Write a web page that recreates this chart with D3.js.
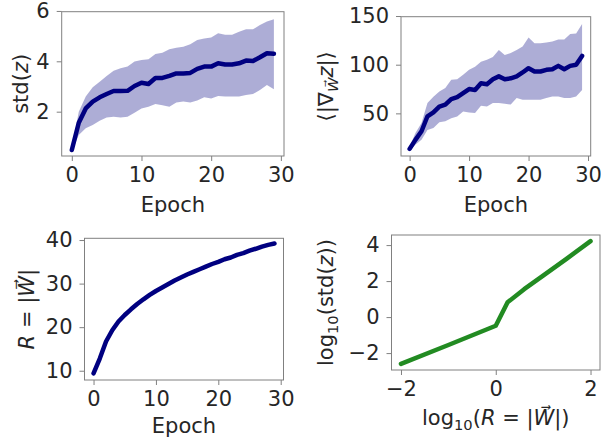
<!DOCTYPE html>
<html>
<head>
<meta charset="utf-8">
<script src="https://cdn.jsdelivr.net/npm/d3@7"></script>
<style>
  body { margin: 0; background: #fff; }
  svg text { font-family: "DejaVu Sans", sans-serif; fill: #262626; }
</style>
</head>
<body>
<div id="chart"></div>
<script>
/* four small training-curve panels */

// DATA
var epochs = [0, 1, 2, 3, 4, 5, 6, 7, 8, 9, 10, 11, 12, 13, 14, 15, 16, 17, 18, 19, 20, 21, 22, 23, 24, 25, 26, 27, 28, 29];

var stdMean  = [0.48, 1.56, 2.13, 2.40, 2.57, 2.70, 2.82, 2.82, 2.83, 3.02, 3.15, 3.10, 3.34, 3.34, 3.42, 3.52, 3.52, 3.54, 3.70, 3.79, 3.79, 3.92, 3.87, 3.87, 3.92, 4.03, 4.01, 4.16, 4.32, 4.30];
var stdUpper = [0.52, 2.00, 2.60, 2.97, 3.19, 3.42, 3.63, 3.72, 3.79, 3.99, 4.05, 4.08, 4.29, 4.34, 4.48, 4.54, 4.58, 4.68, 4.85, 4.91, 4.95, 5.11, 5.05, 5.05, 5.17, 5.27, 5.27, 5.44, 5.58, 5.67];
var stdLower = [0.42, 1.07, 1.34, 1.47, 1.64, 1.77, 1.80, 1.77, 1.80, 1.96, 2.13, 2.20, 2.30, 2.26, 2.20, 2.36, 2.40, 2.36, 2.44, 2.57, 2.52, 2.62, 2.60, 2.60, 2.60, 2.66, 2.70, 2.86, 3.06, 2.89];

var gradMean  = [13.5, 23, 31.6, 47, 51, 57, 59, 64.7, 66.7, 70.8, 75, 74, 81, 80, 85, 88, 85, 86, 88, 92, 96.4, 93, 93, 94.7, 95.4, 98.8, 95.4, 98.8, 100, 109];
var gradUpper = [16, 30, 40, 60.6, 67, 72.5, 76, 84.5, 85, 89.6, 94.7, 98, 103, 105, 108, 115, 110, 112, 115, 118.6, 128, 122, 122, 122.7, 123.7, 126, 126, 131.6, 132, 141.8];
var gradLower = [12, 18, 23, 33, 35, 40.8, 41.8, 45, 46.9, 52, 51, 50.3, 57.8, 57, 60.6, 60.6, 60, 59, 65.7, 64, 64, 64, 64, 65.7, 67.4, 67.4, 65.7, 65.7, 67.4, 74];

var radius = [9.4, 12.8, 16.7, 19.3, 21.3, 22.8, 24.1, 25.3, 26.4, 27.4, 28.3, 29.1, 29.9, 30.7, 31.4, 32.1, 32.7, 33.3, 33.9, 34.5, 35.0, 35.6, 36.0, 36.6, 37.0, 37.55, 38.0, 38.5, 38.9, 39.2];

var logR   = [-2, -1, 0, 0.25, 0.6, 1.0, 1.5, 2];
var logStd = [-2.60, -1.55, -0.48, 0.82, 1.55, 2.30, 3.25, 4.22];

var epochTicks = [0, 10, 20, 30];
var stdTicks = [2, 4, 6];
var gradTicks = [50, 100, 150];
var radiusTicks = [10, 20, 30, 40];
var logRTicks = [-2, 0, 2];
var logStdTicks = [-2, 0, 2, 4];

var width = 601, height = 439;
var fontSize = 21;
var intFormat = d3.format("d");

var svg = d3.select("#chart").append("svg")
    .attr("width", width)
    .attr("height", height);

// draw one framed panel, returns its scales
function makePanel(box, xDomain, yDomain, xTicks, yTicks) {
  var x = d3.scaleLinear().domain(xDomain).range([box.left, box.right]);
  var y = d3.scaleLinear().domain(yDomain).range([box.bottom, box.top]);

  var g = svg.append("g");

  var xAxis = g.append("g")
      .attr("transform", "translate(0," + box.bottom + ")")
      .call(d3.axisBottom(x).tickValues(xTicks).tickFormat(intFormat).tickSize(5).tickPadding(6));
  var yAxis = g.append("g")
      .attr("transform", "translate(" + box.left + ",0)")
      .call(d3.axisLeft(y).tickValues(yTicks).tickFormat(intFormat).tickSize(5).tickPadding(7));

  [xAxis, yAxis].forEach(function (a) {
    a.select(".domain").remove();
    a.selectAll("line").attr("stroke", "#808080");
    a.selectAll("text")
      .attr("font-size", fontSize)
      .attr("font-family", "DejaVu Sans")
      .attr("fill", "#262626");
  });

  // frame
  g.append("rect")
    .attr("x", box.left)
    .attr("y", box.top)
    .attr("width", box.right - box.left)
    .attr("height", box.bottom - box.top)
    .attr("fill", "none")
    .attr("stroke", "#808080")
    .attr("stroke-width", 1);

  return {x: x, y: y, g: g, box: box};
}

function band(p, lower, upper) {
  var area = d3.area()
      .x(function (d, i) { return p.x(epochs[i]); })
      .y0(function (d, i) { return p.y(lower[i]); })
      .y1(function (d, i) { return p.y(upper[i]); });
  p.g.insert("path", ":first-child")
    .datum(upper)
    .attr("d", area)
    .attr("fill", "#000080")
    .attr("fill-opacity", 0.32);
}

function curve(p, xs, ys, color) {
  var line = d3.line()
      .x(function (d, i) { return p.x(xs[i]); })
      .y(function (d, i) { return p.y(ys[i]); });
  p.g.append("path")
    .datum(ys)
    .attr("d", line)
    .attr("fill", "none")
    .attr("stroke", color)
    .attr("stroke-width", 4.5)
    .attr("stroke-linejoin", "round")
    .attr("stroke-linecap", "round");
}

function xLabel(p, baseline) {
  return svg.append("text")
    .attr("x", (p.box.left + p.box.right) / 2)
    .attr("y", baseline)
    .attr("text-anchor", "middle")
    .attr("font-size", fontSize);
}

function yLabel(p, baseX) {
  var cy = (p.box.top + p.box.bottom) / 2;
  return svg.append("text")
    .attr("transform", "translate(" + baseX + "," + cy + ") rotate(-90)")
    .attr("text-anchor", "middle")
    .attr("font-size", fontSize);
}

// panel 1: std(z)
var p1 = makePanel({left: 61.7, right: 284, top: 11.7, bottom: 156},
                   [-1.45, 30.45], [0.24, 5.97], epochTicks, stdTicks);
band(p1, stdLower, stdUpper);
curve(p1, epochs, stdMean, "#000080");
xLabel(p1, 212).text("Epoch");
var l1 = yLabel(p1, 28);
l1.append("tspan").text("std(");
l1.append("tspan").attr("font-style", "italic").text("z");
l1.append("tspan").text(")");

// panel 2: gradient magnitude
var p2 = makePanel({left: 401, right: 590.7, top: 16.7, bottom: 156},
                   [-1.45, 30.45], [6.2, 149.3], epochTicks, gradTicks);
band(p2, gradLower, gradUpper);
curve(p2, epochs, gradMean, "#000080");
xLabel(p2, 212).text("Epoch");
var l2 = yLabel(p2, 333);
l2.append("tspan").text("\u27E8|\u2207");
l2.append("tspan").attr("font-style", "italic").attr("font-size", fontSize * 0.7)
  .attr("dy", 5).text("W\u20D7");
l2.append("tspan").attr("font-style", "italic").attr("dy", -5).text("z");
l2.append("tspan").text("|\u27E9");

// panel 3: weight norm
var p3 = makePanel({left: 84.5, right: 283.5, top: 238.3, bottom: 380},
                   [-1.45, 30.45], [7.87, 40.4], epochTicks, radiusTicks);
curve(p3, epochs, radius, "#000080");
xLabel(p3, 433).text("Epoch");
var l3 = yLabel(p3, 34);
l3.append("tspan").attr("font-style", "italic").text("R");
l3.append("tspan").text(" = |");
l3.append("tspan").attr("font-style", "italic").text("W\u20D7");
l3.append("tspan").text("|");

// panel 4: log-log
var p4 = makePanel({left: 391.5, right: 600, top: 235, bottom: 370},
                   [-2.2, 2.2], [-2.94, 4.56], logRTicks, logStdTicks);
curve(p4, logR, logStd, "#228b22");
var l4x = xLabel(p4, 425);
l4x.append("tspan").text("log");
l4x.append("tspan").attr("font-size", fontSize * 0.7).attr("dy", 5).text("10");
l4x.append("tspan").attr("dy", -5).text("(");
l4x.append("tspan").attr("font-style", "italic").text("R");
l4x.append("tspan").text(" = |");
l4x.append("tspan").attr("font-style", "italic").text("W\u20D7");
l4x.append("tspan").text("|)");
var l4 = yLabel(p4, 333);
l4.append("tspan").text("log");
l4.append("tspan").attr("font-size", fontSize * 0.7).attr("dy", 5).text("10");
l4.append("tspan").attr("dy", -5).text("(std(");
l4.append("tspan").attr("font-style", "italic").text("z");
l4.append("tspan").text("))");
</script>
</body>
</html>
